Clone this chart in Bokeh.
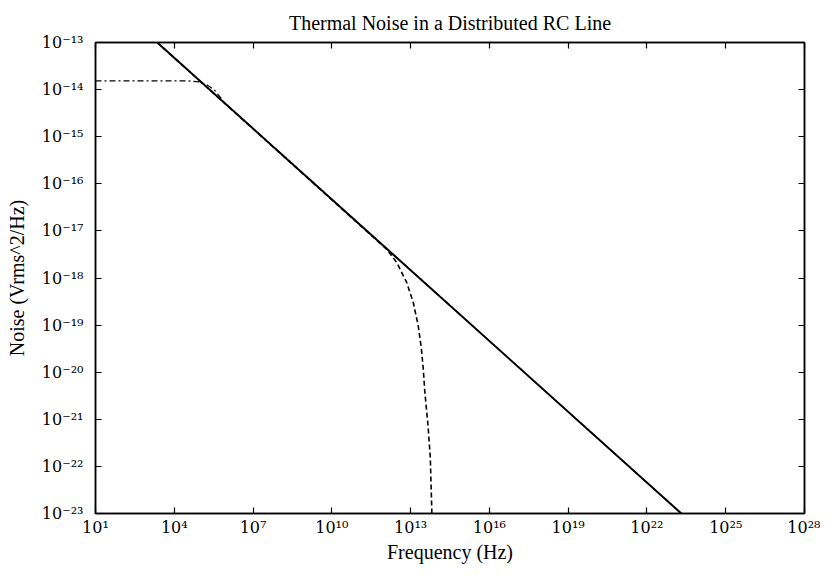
from bokeh.plotting import figure
from bokeh.models import Range1d, FixedTicker, LogAxis, CustomJSTickFormatter
from bokeh.embed import file_html
from bokeh.resources import INLINE

# ---- data ----
# solid line: infinite distributed RC line
solid_freq = [2.24e3, 2.04e23]
solid_noise = [1.0e-13, 1.0e-23]

# dashed line: falls away near 10^13 Hz
dashed_freq = [2.24e3, 1.29e12, 3.02e12, 7.16e12, 1.26e13, 1.95e13, 2.57e13,
               3.02e13, 3.47e13, 4.57e13, 5.62e13, 6.46e13]
dashed_noise = [1.0e-13, 3.98e-18, 2.09e-18, 7.94e-19, 3.02e-19, 9.77e-20, 3.16e-20,
                1.20e-20, 3.89e-21, 7.76e-22, 1.55e-22, 1.0e-23]

# dash-dot line: flat at low frequency, then joins the solid line
dashdot_freq = [1.0e1, 3.47e4, 9.33e4, 1.91e5, 3.39e5, 6.03e5, 6.92e5, 2.04e23]
dashdot_noise = [1.53e-14, 1.53e-14, 1.45e-14, 1.23e-14, 9.77e-15, 6.61e-15, 5.75e-15, 1.0e-23]

# ticks
x_tick_exps = [1, 4, 7, 10, 13, 16, 19, 22, 25, 28]
x_tick_labels = ["10¹", "10⁴", "10⁷", "10¹⁰", "10¹³", "10¹⁶", "10¹⁹", "10²²", "10²⁵", "10²⁸"]
y_tick_exps = [-23, -22, -21, -20, -19, -18, -17, -16, -15, -14, -13]
y_tick_labels = ["10⁻²³", "10⁻²²", "10⁻²¹", "10⁻²⁰", "10⁻¹⁹", "10⁻¹⁸",
                 "10⁻¹⁷", "10⁻¹⁶", "10⁻¹⁵", "10⁻¹⁴", "10⁻¹³"]

title_text = "Thermal Noise in a Distributed RC Line"
x_label = "Frequency (Hz)"
y_label = "Noise (Vrms^2/Hz)"

FONT = "Liberation Serif"
TICK_FONT = "DejaVu Serif"

p = figure(width=820, height=565, x_axis_type="log", y_axis_type="log",
           x_range=Range1d(1e1, 1e28), y_range=Range1d(1e-23, 1e-13),
           output_backend="svg", toolbar_location=None,
           min_border_left=95, min_border_right=16, min_border_top=40, min_border_bottom=52)

p.title.text = title_text
p.title.align = "center"
p.title.text_font = FONT
p.title.text_font_size = "20px"
p.title.text_font_style = "normal"
p.title.text_color = "black"
p.title.standoff = 18

p.background_fill_color = "white"
p.border_fill_color = "white"
p.outline_line_color = "black"
p.outline_line_width = 1.5
p.xgrid.visible = False
p.ygrid.visible = False

xt = FixedTicker(ticks=[10.0 ** e for e in x_tick_exps], minor_ticks=[])
yt = FixedTicker(ticks=[10.0 ** e for e in y_tick_exps], minor_ticks=[])

fmt_code = """
const e = Math.round(Math.log10(tick));
for (let i = 0; i < exps.length; i++) { if (exps[i] === e) return labels[i]; }
return "";
"""
xfmt = CustomJSTickFormatter(args=dict(exps=x_tick_exps, labels=x_tick_labels), code=fmt_code)
yfmt = CustomJSTickFormatter(args=dict(exps=y_tick_exps, labels=y_tick_labels), code=fmt_code)

for ax, tk, fm in ((p.xaxis[0], xt, xfmt), (p.yaxis[0], yt, yfmt)):
    ax.ticker = tk
    ax.formatter = fm
    ax.major_tick_in = 6
    ax.major_tick_out = 0
    ax.minor_tick_in = 0
    ax.minor_tick_out = 0
    ax.axis_line_width = 1.5
    ax.major_tick_line_width = 1.2
    ax.major_label_text_font = TICK_FONT
    ax.major_label_text_font_size = "16px"
    ax.major_label_text_color = "black"
    ax.axis_label_text_font = FONT
    ax.axis_label_text_font_style = "normal"
    ax.axis_label_text_color = "black"

p.xaxis[0].major_label_standoff = 4
p.xaxis[0].axis_label = x_label
p.xaxis[0].axis_label_text_font_size = "20px"
p.xaxis[0].axis_label_standoff = 1
p.yaxis[0].major_label_standoff = 12
p.yaxis[0].axis_label = y_label
p.yaxis[0].axis_label_text_font_size = "20px"
p.yaxis[0].axis_label_standoff = 11

empty = CustomJSTickFormatter(code="return '';")
for loc, tk in (("above", xt), ("right", yt)):
    a = LogAxis(ticker=tk, formatter=empty, major_tick_in=6, major_tick_out=0,
                minor_tick_in=0, minor_tick_out=0, major_label_standoff=0,
                major_label_text_font_size="0px", axis_line_width=1.5,
                major_tick_line_width=1.2)
    p.add_layout(a, loc)

p.line(solid_freq, solid_noise, line_color="black", line_width=2)
p.line(dashed_freq, dashed_noise, line_color="black", line_width=1.6, line_dash="5 3")
p.line(dashdot_freq, dashdot_noise, line_color="black", line_width=1.2, line_dash="6 3 2 3")

open("out.html", "w").write(file_html(p, INLINE))
